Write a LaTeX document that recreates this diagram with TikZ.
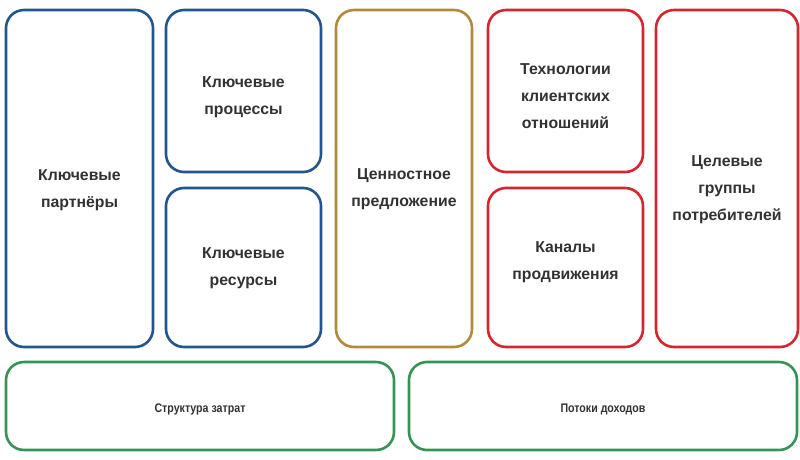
\documentclass[tikz,border=0pt]{standalone}
\usepackage{fontspec}
\setmainfont{Liberation Sans}
\newfontfamily\narrowfont[FakeStretch=0.85]{Liberation Sans}
\usetikzlibrary{positioning}
\definecolor{keyblue}{RGB}{36,84,140}
\definecolor{valgold}{RGB}{176,138,62}
\definecolor{custred}{RGB}{212,38,48}
\definecolor{fingreen}{RGB}{56,146,86}
\definecolor{textgray}{RGB}{50,50,50}
\tikzset{
	x=1pt, y=1pt,
	cell/.style={draw=#1, line width=2.6pt, rounded corners=18pt, outer sep=0pt, inner sep=0pt},
	bigcell/.style={cell=#1, minimum height=337pt},
	halfcell/.style={cell=#1, minimum width=155pt},
	moneycell/.style={cell=fingreen, minimum width=388pt, minimum height=88pt},
	caption/.style={align=center, text=textgray, font=\bfseries\fontsize{15.8}{27}\selectfont},
	smallcaption/.style={text=textgray, font=\narrowfont\bfseries\fontsize{12.5}{14}\selectfont},
}

\begin{document}
\begin{tikzpicture}
	\useasboundingbox (0,0) rectangle (800,459);
	% frames
	\node[bigcell=keyblue, minimum width=147pt, anchor=north west] (PARTNERS) at (6,449) {};
	\node[halfcell=keyblue, minimum height=162pt, right=13pt of PARTNERS.north east, anchor=north west] (PROCESSES) {};
	\node[halfcell=keyblue, minimum height=159pt, below=16pt of PROCESSES.south west, anchor=north west] (RESOURCES) {};
	\node[bigcell=valgold, minimum width=136pt, right=15pt of PROCESSES.north east, anchor=north west] (VALUE) {};
	\node[halfcell=custred, minimum height=162pt, right=16pt of VALUE.north east, anchor=north west] (RELATIONS) {};
	\node[halfcell=custred, minimum height=159pt, below=16pt of RELATIONS.south west, anchor=north west] (CHANNELS) {};
	\node[bigcell=custred, minimum width=142pt, right=13pt of RELATIONS.north east, anchor=north west] (SEGMENTS) {};
	\node[moneycell, below=15pt of PARTNERS.south west, anchor=north west] (COSTS) {};
	\node[moneycell, right=15pt of COSTS.north east, anchor=north west] (REVENUE) {};
	% texts
	\node[caption, yshift=-12pt] (partners) at (PARTNERS) {Ключевые\\партнёры};
	\node[caption, yshift=-6pt] (processes) at (PROCESSES) {Ключевые\\процессы};
	\node[caption, yshift=-1pt] (resources) at (RESOURCES) {Ключевые\\ресурсы};
	\node[caption, yshift=-11pt] (value) at (VALUE) {Ценностное\\предложение};
	\node[caption, yshift=-5pt] (relations) at (RELATIONS) {Технологии\\клиентских\\отношений};
	\node[caption, yshift=5pt] (channels) at (CHANNELS) {Каналы\\продвижения};
	\node[caption, yshift=-11pt] (segments) at (SEGMENTS) {Целевые\\группы\\потребителей};
	\node[smallcaption, yshift=-3pt] (costs) at (COSTS) {Структура затрат};
	\node[smallcaption, yshift=-3pt] (revenue) at (REVENUE) {Потоки доходов};
\end{tikzpicture}
\end{document}
